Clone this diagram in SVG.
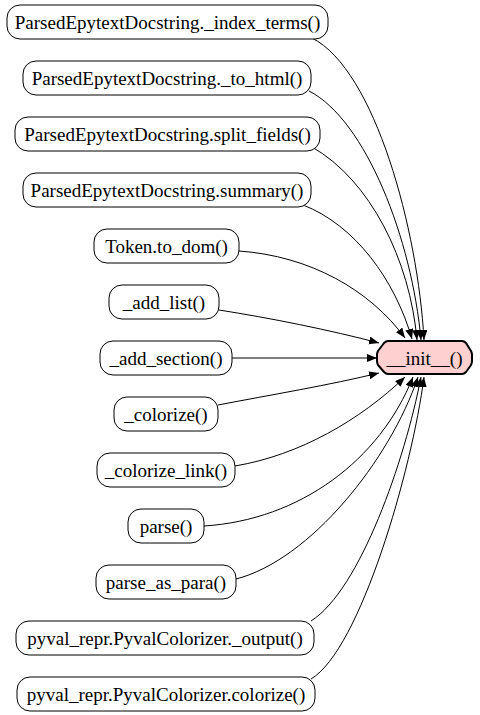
<svg xmlns="http://www.w3.org/2000/svg" width="480" height="715" viewBox="0 0 480 715">
<style>
.n rect{fill:#fff;stroke:#000;stroke-width:1}
.t path{fill:#ffd0d0;stroke:#000;stroke-width:2;stroke-linejoin:round}
text{font-family:"Liberation Serif","Times New Roman",serif;font-size:19px;text-anchor:middle;fill:#000}
.e path{fill:none;stroke:#000;stroke-width:1;marker-end:url(#a)}
</style>
<defs>
<marker id="a" markerWidth="11" markerHeight="9" refX="10" refY="4" orient="auto" markerUnits="userSpaceOnUse"><path d="M0,0 L10,4 L0,8 z" fill="#000"/></marker>
</defs>
<g id="edges" class="e">
<path d="M312,38 C375,70 418,230 424,340"/>
<path d="M309,91 C366,120 412,240 421,340"/>
<path d="M312,147 C370,180 410,260 417,340"/>
<path d="M303,205 C355,225 395,280 412,339"/>
<path d="M239,251 C310,256 370,290 405,338"/>
<path d="M219,310 C270,318 330,330 379,343"/>
<path d="M232,358 L377,358"/>
<path d="M218,405 C270,395 330,385 379,373"/>
<path d="M235,466 C300,455 360,420 405,377"/>
<path d="M204,526 C300,520 380,460 413,377"/>
<path d="M236,579 C310,560 390,460 418,377"/>
<path d="M311,621 C360,590 405,460 421,377"/>
<path d="M311,679 C360,650 412,470 424,377"/>
</g>
<g id="n1" class="n"><rect x="7" y="5" width="321" height="34" rx="13"/><text x="167.5" y="29">ParsedEpytextDocstring._index_terms()</text></g>
<g id="n2" class="n"><rect x="23" y="61" width="288" height="34" rx="13"/><text x="167" y="85">ParsedEpytextDocstring._to_html()</text></g>
<g id="n3" class="n"><rect x="15" y="117" width="305" height="34" rx="13"/><text x="167.5" y="141">ParsedEpytextDocstring.split_fields()</text></g>
<g id="n4" class="n"><rect x="23" y="173" width="288" height="34" rx="13"/><text x="167" y="197">ParsedEpytextDocstring.summary()</text></g>
<g id="n5" class="n"><rect x="94" y="229" width="145" height="34" rx="13"/><text x="166.5" y="253">Token.to_dom()</text></g>
<g id="n6" class="n"><rect x="109" y="285" width="110" height="34" rx="13"/><text x="164" y="309">_add_list()</text></g>
<g id="n7" class="n"><rect x="100" y="341" width="132" height="34" rx="13"/><text x="166" y="365">_add_section()</text></g>
<g id="n8" class="n"><rect x="114" y="397" width="104" height="34" rx="13"/><text x="166" y="421">_colorize()</text></g>
<g id="n9" class="n"><rect x="97" y="453" width="138" height="34" rx="13"/><text x="166" y="477">_colorize_link()</text></g>
<g id="n10" class="n"><rect x="128" y="509" width="76" height="34" rx="13"/><text x="166" y="533">parse()</text></g>
<g id="n11" class="n"><rect x="96" y="565" width="140" height="34" rx="13"/><text x="166" y="589">parse_as_para()</text></g>
<g id="n12" class="n"><rect x="16" y="621" width="298" height="34" rx="13"/><text x="165" y="645">pyval_repr.PyvalColorizer._output()</text></g>
<g id="n13" class="n"><rect x="17" y="677" width="298" height="34" rx="13"/><text x="166" y="701">pyval_repr.PyvalColorizer.colorize()</text></g>
<g id="target" class="t"><path d="M388,341 H462 Q464,341 466,343 L471,351 Q472,353 472,355 V361 Q472,363 471,365 L466,372 Q464,374 462,374 H388 Q386,374 384,372 L378,365 Q377,363 377,361 V355 Q377,353 378,351 L384,343 Q386,341 388,341 Z"/><text x="424.5" y="365">__init__()</text></g>
</svg>
